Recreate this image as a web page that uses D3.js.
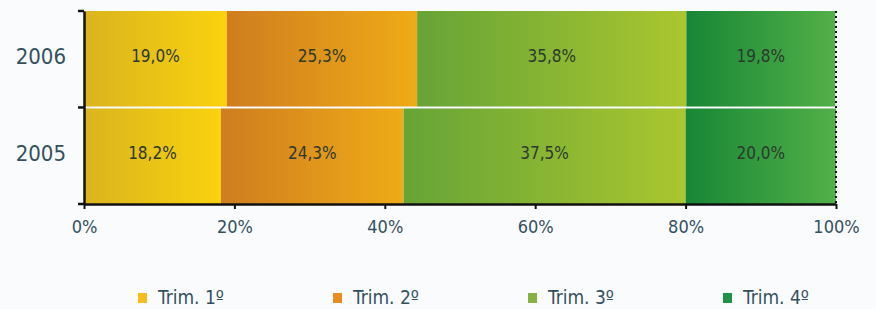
<!DOCTYPE html>
<html><head><meta charset="utf-8">
<script src="https://cdn.jsdelivr.net/npm/d3@7"></script>
<style>
html,body{margin:0;padding:0;background:#fafbfd;}
svg{display:block;}
text{font-family:"DejaVu Sans Condensed","DejaVu Sans",sans-serif;}
</style></head>
<body><svg id="c" width="876" height="309"></svg>
<script>
const categories = ["2006", "2005"];
const seriesNames = ["Trim. 1º", "Trim. 2º", "Trim. 3º", "Trim. 4º"];
const trim1 = [19.0, 18.2];
const trim2 = [25.3, 24.3];
const trim3 = [35.8, 37.5];
const trim4 = [19.8, 20.0];
const xTicks = [0, 20, 40, 60, 80, 100];

const seriesValues = [trim1, trim2, trim3, trim4];
const gradColors = [["#d9b41e", "#fad20e"], ["#cf7d1f", "#efab17"], ["#66a437", "#aac62f"], ["#178636", "#52b047"]];
const legendColors = ["#f6bc1c", "#ea8c22", "#86b244", "#1f9148"];

const svg = d3.select("#c");
const left = 84;
const x = d3.scaleLinear().domain([0, 100]).range([left, 836]);
const y = d3.scaleBand().domain(categories).range([11, 204]).paddingInner(0.02);

const defs = svg.append("defs");
gradColors.forEach((c, i) => {
  const g = defs.append("linearGradient").attr("id", "g" + i)
    .attr("x1", "0").attr("x2", "1").attr("y1", "0").attr("y2", "0");
  g.append("stop").attr("offset", "0").attr("stop-color", c[0]);
  g.append("stop").attr("offset", "1").attr("stop-color", c[1]);
});

const rows = categories.map((cat, ci) => {
  let acc = 0;
  return seriesValues.map((s, si) => {
    const d = {cat, si, v: s[ci], x0: acc, x1: acc + s[ci]};
    acc += s[ci];
    return d;
  });
}).flat();

svg.append("g").selectAll("rect").data(rows).join("rect")
  .attr("x", d => x(d.x0))
  .attr("width", d => x(d.x1) - x(d.x0))
  .attr("y", d => y(d.cat))
  .attr("height", y.bandwidth())
  .attr("fill", d => "url(#g" + d.si + ")");

svg.append("g").selectAll("text").data(rows).join("text")
  .attr("x", d => x((d.x0 + d.x1) / 2))
  .attr("y", d => y(d.cat) + y.bandwidth() / 2 - 3)
  .attr("dy", "0.36em")
  .attr("text-anchor", "middle")
  .attr("font-size", 17)
  .attr("fill", "#2b3a2e")
  .text(d => d.v.toFixed(1).replace(".", ",") + "%");

// right dotted border
svg.append("line").attr("x1", x(100)).attr("x2", x(100)).attr("y1", 11).attr("y2", 204)
  .attr("stroke", "#111").attr("stroke-width", 2).attr("stroke-dasharray", "2,3");

// x axis
const xAxis = svg.append("g").attr("transform", "translate(0,204)")
  .call(d3.axisBottom(x).tickValues(xTicks).tickSize(5).tickSizeOuter(0).tickFormat(d => d + "%"));
xAxis.select(".domain").attr("stroke", "#111").attr("stroke-width", 2.5);
xAxis.selectAll(".tick line").attr("stroke", "#111").attr("stroke-width", 2);
xAxis.selectAll(".tick text").attr("font-size", 18).attr("fill", "#34505e").attr("dy", "1.15em")
  .attr("font-family", "\"DejaVu Sans Condensed\",sans-serif");

// y axis
const yAxis = svg.append("g").attr("transform", `translate(${left},0)`)
  .call(d3.axisLeft(y).tickSize(0).tickPadding(18));
yAxis.select(".domain").attr("stroke", "#111").attr("stroke-width", 2.5);
yAxis.selectAll(".tick text").attr("font-size", 22).attr("fill", "#34505e")
  .attr("dy", "0.22em")
  .attr("font-family", "\"DejaVu Sans Condensed\",sans-serif");
// band boundary ticks
const bounds = [11, y("2005") - 1, 204];
svg.append("g").selectAll("line").data(bounds).join("line")
  .attr("x1", left - 6).attr("x2", left).attr("y1", d => d).attr("y2", d => d)
  .attr("stroke", "#111").attr("stroke-width", 2.5);

// legend
const legX = d3.scalePoint().domain(seriesNames).range([138, 723]);
const leg = svg.append("g").selectAll("g").data(seriesNames).join("g")
  .attr("transform", d => `translate(${legX(d)},298)`);
leg.append("rect").attr("x", 0).attr("y", -5).attr("width", 9).attr("height", 10)
  .attr("fill", (d, i) => legendColors[i]);
leg.append("text").attr("x", 20).attr("y", 6).attr("font-size", 19)
  .attr("fill", "#34505e").text(d => d);
</script></body></html>
